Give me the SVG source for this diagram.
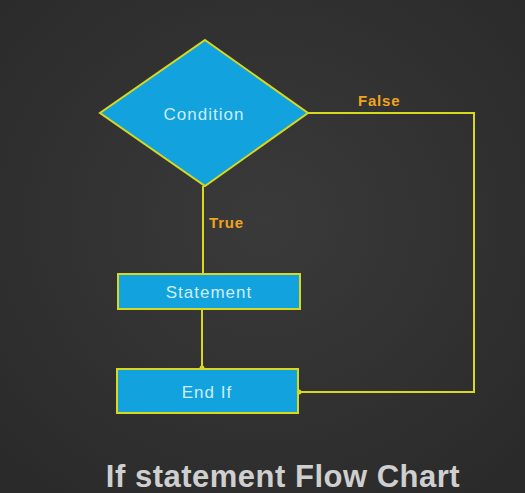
<svg xmlns="http://www.w3.org/2000/svg" width="525" height="493" viewBox="0 0 525 493">
<defs>
<style>
.node{fill:#12a2dd;stroke:#d8d81e;stroke-width:2}
.ntext{font-family:"Liberation Sans",Arial,sans-serif;font-size:17px;letter-spacing:1px;fill:#cdeefb;text-anchor:middle}
.edge{fill:none;stroke:#d8d81e;stroke-width:2}
.lbl{font-family:"Liberation Sans",Arial,sans-serif;font-size:15px;letter-spacing:0.8px;font-weight:bold;fill:#f0a41e}
.title{font-family:"Liberation Sans",Arial,sans-serif;font-size:31px;letter-spacing:0.5px;font-weight:bold;fill:#cfcfcf;text-anchor:middle}
</style>
<marker id="dot" markerWidth="6" markerHeight="6" refX="3" refY="3" markerUnits="userSpaceOnUse">
<circle cx="3" cy="3" r="2.5" fill="#d8d81e"/>
</marker>
<radialGradient id="bg" cx="50%" cy="45%" r="70%">
<stop offset="0" stop-color="#3a3a3a"/>
<stop offset="1" stop-color="#2a2a2a"/>
</radialGradient>
</defs>
<rect width="525" height="493" fill="url(#bg)"/>
<g id="connectors">
<line class="edge" x1="203" y1="186" x2="203" y2="274"/>
<line class="edge" x1="202" y1="309" x2="202" y2="368" marker-end="url(#dot)"/>
<polyline class="edge" points="308,113 474,113 474,392 299,392" marker-end="url(#dot)"/>
<text class="lbl" x="358" y="106">False</text>
<text class="lbl" x="209" y="228">True</text>
</g>
<g id="condition">
<polygon class="node" points="205,40 308,113 205,186 100,113"/>
<text class="ntext" x="204" y="120">Condition</text>
</g>
<g id="statement">
<rect class="node" x="118" y="274" width="182" height="35"/>
<text class="ntext" x="209" y="298">Statement</text>
</g>
<g id="endif">
<rect class="node" x="117" y="369" width="181" height="44"/>
<text class="ntext" x="207" y="398">End If</text>
</g>
<text class="title" x="283" y="487">If statement Flow Chart</text>
</svg>
